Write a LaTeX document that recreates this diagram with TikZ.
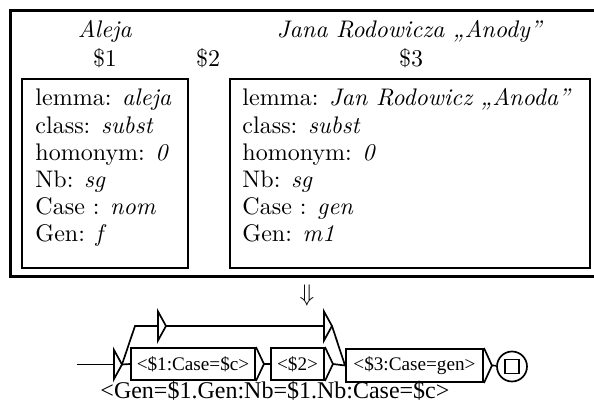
\documentclass[tikz,border=0pt]{standalone}
\usepackage{fontspec}
\newfontfamily\uni{Liberation Serif}
\usetikzlibrary{calc}
\newcommand\unitexempty[2]{%
  \coordinate (#1) at #2;
  \coordinate (#1t) at ($(#1)+(8,0)$);
  \draw[conn] ($(#1)+(0,-14.5)$) -- ($(#1)+(0,14.5)$) -- (#1t) -- cycle;
}
\newcommand\unitextip[1]{%
  \coordinate (#1t) at ($(#1.east)+(8,0)$);
  \draw[conn] (#1.north east) -- (#1t) -- (#1.south east);
}
\begin{document}
\def\u{0.41667pt}
\begin{tikzpicture}[x=0.41667pt,y=-0.41667pt,
  frame/.style={line width=1.25pt},
  feat/.style={draw, line width=0.8pt, inner sep=0pt},
  txt/.style={anchor=base west, inner sep=0pt},
  head/.style={anchor=base, inner sep=0pt},
  ubox/.style={draw, line width=0.8pt, inner sep=0pt, font=\uni\fontsize{8}{9}\selectfont, minimum height=32*\u},
  conn/.style={line width=0.7pt},
  ]
\useasboundingbox (0,0) rectangle (594,403);
% outer frame (right side runs past the picture edge)
\draw[frame] (10,11) rectangle (600,277);
% feature boxes
\node[feat, minimum width=166*\u, minimum height=189*\u] (lbox) at (105,173.5) {};
\node[feat, minimum width=360*\u, minimum height=189*\u] (rbox) at (410,173.5) {};
% headings
\node[head] (h1) at (105,38) {\textit{Aleja}};
\node[head] (h3) at (410,38) {\textit{Jana Rodowicza „Anody”}};
\node[head] (d1) at (105,67) {\$1};
\node[head] (d2) at (208,67) {\$2};
\node[head] (d3) at (411,67) {\$3};
% left features
\node[txt] (l1) at (35,106) {lemma: \textit{aleja}};
\node[txt] (l2) at (35,133.2) {class: \textit{subst}};
\node[txt] (l3) at (35,160.4) {homonym: \textit{0}};
\node[txt] (l4) at (35,187.6) {Nb: \textit{sg}};
\node[txt] (l5) at (35,214.8) {Case : \textit{nom}};
\node[txt] (l6) at (35,242) {Gen: \textit{f}};
% right features
\node[txt] (r1) at (242,106) {lemma: \textit{Jan Rodowicz „Anoda”}};
\node[txt] (r2) at (242,133.2) {class: \textit{subst}};
\node[txt] (r3) at (242,160.4) {homonym: \textit{0}};
\node[txt] (r4) at (242,187.6) {Nb: \textit{sg}};
\node[txt] (r5) at (242,214.8) {Case : \textit{gen}};
\node[txt] (r6) at (242,242) {Gen: \textit{m1}};
% arrow
\node[inner sep=0pt] (arr) at (307,296) {$\Downarrow$};
% graph
\coordinate (start) at (77,364.5);
\unitexempty{init}{(114,364.5)}
\unitexempty{e1}{(158,326)}
\unitexempty{e2}{(324,326)}
\node[ubox, minimum width=124*\u] (b1) at (193,364) {<\$1:Case=\$c>};
\node[ubox, minimum width=53*\u] (b2) at (297.5,364) {<\$2>};
\node[ubox, minimum width=137*\u, minimum height=33*\u] (b3) at (414.5,365.5) {<\$3:Case=gen>};
\unitextip{b1}
\unitextip{b2}
\unitextip{b3}
\node[draw, circle, conn, minimum size=30*\u, inner sep=0pt] (fin) at (512,366.5) {};
\node[draw, conn, minimum size=14*\u, inner sep=0pt] (finsq) at (fin.center) {};
\coordinate (k1) at (135,326);
\draw[conn] (start) -- (init);
\draw[conn] (initt) -- (b1.west);
\draw[conn] (initt) -- (k1) -- (e1);
\draw[conn] (e1t) -- (e2);
\draw[conn] (e2t) -- (b3.west);
\draw[conn] (b1t) -- (b2.west);
\draw[conn] (b2t) -- (b3.west);
\draw[conn] (b3t) -- (fin);
\node[anchor=base west, inner sep=0pt, font=\uni\fontsize{10}{12}\selectfont] (out) at (100,399) {<Gen=\$1.Gen:Nb=\$1.Nb:Case=\$c>};
\end{tikzpicture}
\end{document}
